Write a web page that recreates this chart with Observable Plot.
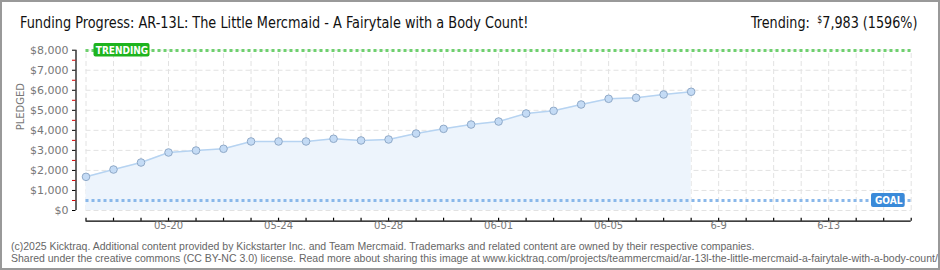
<!DOCTYPE html>
<html>
<head>
<meta charset="utf-8">
<script src="https://cdn.jsdelivr.net/npm/d3@7"></script>
<script src="https://cdn.jsdelivr.net/npm/@observablehq/plot@0.6"></script>
<style>
  html, body { margin: 0; padding: 0; background: #fff; }
  #wrap { position: relative; width: 940px; height: 270px; overflow: hidden; background: #fff; }
  #border { position: absolute; left: 0; top: 0; width: 940px; height: 270px; box-sizing: border-box; border: 2px solid #999; pointer-events: none; }
  .hdr { position: absolute; top: 12px; height: 22px; line-height: 22px; font-family: "Liberation Sans Narrow", "DejaVu Sans Condensed", "Roboto Condensed", "Liberation Sans", sans-serif; font-stretch: condensed; font-size: 16.5px; color: #111; white-space: nowrap; }
  #title { left: 20px; transform: scaleX(0.868); transform-origin: left center; }
  #trend { right: 23px; transform: scaleX(0.86); transform-origin: right center; }
  #trend sup { font-size: 10px; vertical-align: 5px; line-height: 0; margin-left: 4px; }
  #chart { position: absolute; left: 0; top: 38px; }
  .foot { position: absolute; left: 11px; font-family: "Liberation Sans", Arial, sans-serif; font-size: 10.5px; color: #666; white-space: nowrap; line-height: 12px; }
</style>
</head>
<body>
<div id="wrap">
  <div id="title" class="hdr"></div>
  <div id="trend" class="hdr"></div>
  <div id="chart"></div>
  <div id="foot1" class="foot" style="top:239.5px"></div>
  <div id="foot2" class="foot" style="top:251.5px"></div>
  <div id="border"></div>
</div>
<script>
// ---- data ----
const titleText = "Funding Progress: AR-13L: The Little Mercmaid - A Fairytale with a Body Count!";
const trendLabel = "Trending:";
const footerLines = [
  "(c)2025 Kicktraq. Additional content provided by Kickstarter Inc. and Team Mercmaid. Trademarks and related content are owned by their respective companies.",
  "Shared under the creative commons (CC BY-NC 3.0) license. Read more about sharing this image at www.kicktraq.com/projects/teammercmaid/ar-13l-the-little-mercmaid-a-fairytale-with-a-body-count/"
];
const startDate = "2025-05-17";
const endDate = "2025-06-16";
const pledgeDates = [
  "2025-05-17","2025-05-18","2025-05-19","2025-05-20","2025-05-21","2025-05-22","2025-05-23",
  "2025-05-24","2025-05-25","2025-05-26","2025-05-27","2025-05-28","2025-05-29","2025-05-30",
  "2025-05-31","2025-06-01","2025-06-02","2025-06-03","2025-06-04","2025-06-05","2025-06-06",
  "2025-06-07","2025-06-08"
];
const pledged = [1680, 2045, 2395, 2895, 2995, 3080, 3445, 3445, 3445, 3580, 3495, 3545,
  3840, 4075, 4290, 4440, 4840, 4975, 5290, 5575, 5625, 5790, 5925];
const goal = 500;
const trending = 7983;
const trendingPct = 1596;
const yTicks = [0, 1000, 2000, 3000, 4000, 5000, 6000, 7000, 8000];
const yMinorTicks = [500, 1500, 2500, 3500, 4500, 5500, 6500, 7500];
const xLabelDates = ["2025-05-20","2025-05-24","2025-05-28","2025-06-01","2025-06-05","2025-06-09","2025-06-13"];
const xLabels = ["05-20","05-24","05-28","06-01","06-05","6-9","6-13"];

// ---- header/footer ----
document.getElementById("title").textContent = titleText;
document.getElementById("trend").innerHTML = trendLabel + " <sup>$</sup>" + d3.format(",")(trending) + " (" + trendingPct + "%)";
document.getElementById("foot1").textContent = footerLines[0];
document.getElementById("foot2").textContent = footerLines[1];

// ---- chart ----
const parse = d3.utcParse("%Y-%m-%d");
const start = parse(startDate), end = parse(endDate);
const data = pledgeDates.map((d, i) => ({date: parse(d), value: pledged[i]}));
const days = d3.utcDay.range(start, d3.utcDay.offset(end, 1));
const labels = xLabelDates.map((d, i) => ({date: parse(d), text: xLabels[i]}));
const gridColor = "#e2e2e2";
const fmt = d => "$" + d3.format(",")(d);

const chart = Plot.plot({
  width: 940,
  height: 200,
  marginLeft: 75.5,
  marginRight: 29.3,
  marginTop: 11.7,
  marginBottom: 28,
  style: {background: "transparent", overflow: "visible"},
  x: {type: "utc", domain: [start, end], range: [85.5, 910.7], axis: null},
  y: {domain: [0, 8000], axis: null},
  marks: [
    // grid
    Plot.ruleY(yTicks, {y: d => d, x1: start, x2: end, stroke: gridColor, strokeDasharray: "5,3"}),
    Plot.ruleX(days, {x: d => d, y1: 0, y2: 8000, stroke: gridColor, strokeDasharray: "5,3"}),
    // data
    Plot.areaY(data, {x: "date", y: "value", fill: "#edf4fc"}),
    Plot.lineY(data, {x: "date", y: "value", stroke: "#b6d3f1", strokeWidth: 1.5}),
    // goal & trending lines
    Plot.ruleY([goal], {y: d => d, x1: start, x2: end, stroke: "#8ab8ea", strokeWidth: 3, strokeDasharray: "3,3"}),
    Plot.ruleY([trending], {y: d => d, x1: start, x2: end, stroke: "#6fd06f", strokeWidth: 3, strokeDasharray: "3,3"}),
    Plot.dot(data, {x: "date", y: "value", r: 3.8, fill: "#c4dbf5", stroke: "#8fa9c8", strokeWidth: 1}),
    // y axis
    Plot.ruleX([start], {x: d => d, y1: 0, y2: 8000, dx: -10, stroke: "#000", strokeWidth: 1.2}),
    Plot.axisY(yMinorTicks, {anchor: "left", tickSize: 3.5, stroke: "#d40000", tickFormat: () => "", label: null}),
    Plot.axisY(yTicks, {anchor: "left", tickSize: 3.5, tickPadding: 4, stroke: "#000", fill: "#777",
      tickFormat: fmt, fontSize: 11, fontFamily: "DejaVu Sans", label: null}),
    Plot.text(["PLEDGED"], {text: d => d, frameAnchor: "left", dx: -55.5, rotate: -90, fill: "#777",
      fontSize: 10, fontFamily: "DejaVu Sans", letterSpacing: 2}),
    // x axis
    Plot.ruleY([0], {y: d => d, x1: start, x2: end, dy: 10.7, stroke: "#000", strokeWidth: 1.2}),
    Plot.ruleX(days, {x: d => d, y1: 0, y2: 150, dy: 10.7, stroke: "#000", strokeWidth: 1.2}),
    Plot.text(labels, {x: "date", text: "text", frameAnchor: "bottom", dy: 18.5, fill: "#777",
      fontSize: 10, fontFamily: "DejaVu Sans"}),
    // labels
    Plot.rect([trending], {x1: start, x2: start, y1: d => d, y2: d => d,
      insetLeft: 8, insetRight: -64, insetTop: -7, insetBottom: -6.5, fill: "#1eb41e", rx: 2}),
    Plot.text(["TRENDING"], {x: start, y: trending, text: d => d, dx: 36, dy: 0.5, fill: "#fff",
      fontSize: 10, fontFamily: "Liberation Sans Narrow, DejaVu Sans Condensed, Liberation Sans, sans-serif",
      fontWeight: "bold", letterSpacing: 0.6}),
    Plot.rect([goal], {x1: end, x2: end, y1: d => d, y2: d => d,
      insetLeft: -39.7, insetRight: 6, insetTop: -7, insetBottom: -7, fill: "#3a8ad9", rx: 2}),
    Plot.text(["GOAL"], {x: end, y: goal, text: d => d, dx: -22.5, dy: 0.5, fill: "#fff",
      fontSize: 10, fontFamily: "Liberation Sans Narrow, DejaVu Sans Condensed, Liberation Sans, sans-serif",
      fontWeight: "bold", letterSpacing: 0.8})
  ]
});
document.getElementById("chart").appendChild(chart);
</script>
</body>
</html>
